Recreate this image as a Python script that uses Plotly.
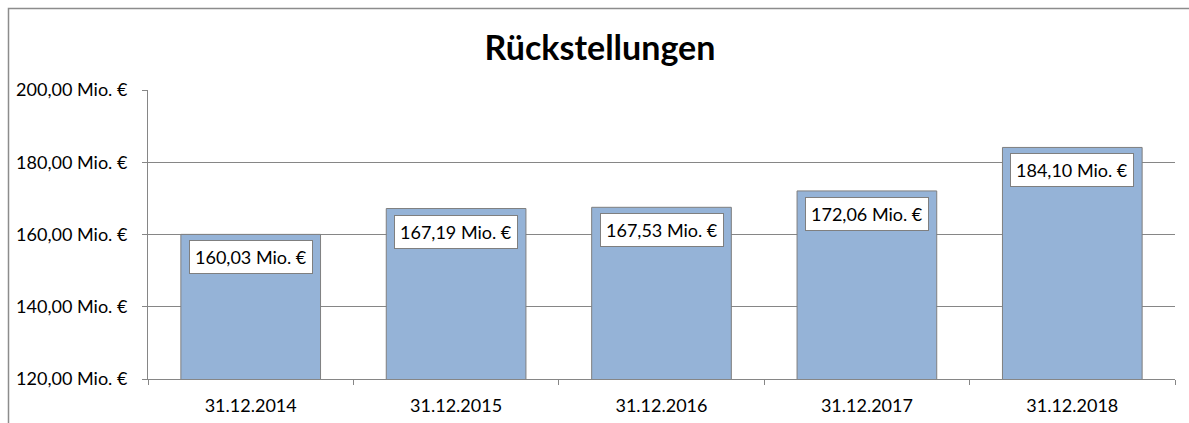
import plotly.graph_objects as go

categories = ["31.12.2014", "31.12.2015", "31.12.2016", "31.12.2017", "31.12.2018"]
values = [160.03, 167.19, 167.53, 172.06, 184.10]
label_texts = ["160,03 Mio. €", "167,19 Mio. €", "167,53 Mio. €", "172,06 Mio. €", "184,10 Mio. €"]

FONT = "Lato"
W, H = 1189, 423
L, R, T, B = 148, 14, 90, 44
pw, ph = W - L - R, H - T - B

fig = go.Figure()
fig.add_trace(go.Bar(
    x=categories, y=values,
    marker=dict(color="#95B3D7", line=dict(color="#7F7F7F", width=1)),
    hoverinfo="skip",
))

for c, v, t in zip(categories, values, label_texts):
    fig.add_annotation(
        x=c, y=v, xref="x", yref="y", text=t, showarrow=False,
        yanchor="top", yshift=-6,
        bgcolor="white", bordercolor="#7F7F7F", borderwidth=1, borderpad=5,
        font=dict(family=FONT, size=18, color="black"),
    )

# outer chart border (left and top edges visible), at (8, 8)
fig.add_shape(
    type="rect", xref="paper", yref="paper",
    x0=(8.5 - L) / pw, x1=(W + 20 - L) / pw,
    y0=(H - B - (H + 20)) / ph, y1=(H - B - 8.5) / ph,
    line=dict(color="#8C8C8C", width=1.5), fillcolor="rgba(0,0,0,0)", layer="below",
)

fig.update_layout(
    width=W, height=H,
    margin=dict(l=L, r=R, t=T, b=B, autoexpand=False),
    paper_bgcolor="white", plot_bgcolor="white",
    bargap=0.32,
    showlegend=False,
    separators=",.",
    font=dict(family=FONT, size=18, color="black"),
    title=dict(
        text="<b>Rückstellungen</b>", x=600 / W, xref="container", xanchor="center",
        y=1 - 48 / H, yref="container", yanchor="middle",
        font=dict(family=FONT, size=34, color="black"),
    ),
    xaxis=dict(
        type="category", showline=True, linecolor="#868686", linewidth=1,
        ticks="outside", ticklen=5, tickcolor="#868686", tickson="boundaries",
        showgrid=False, tickfont=dict(family=FONT, size=18, color="black"),
        ticklabelstandoff=10, automargin=False,
        fixedrange=True,
    ),
    yaxis=dict(
        range=[120, 200], dtick=20, tick0=120, tickformat=".2f", ticksuffix=" Mio. €",
        showline=True, linecolor="#868686", linewidth=1,
        ticks="outside", ticklen=5, tickcolor="#868686",
        showgrid=True, gridcolor="#868686", gridwidth=1, zeroline=False,
        tickfont=dict(family=FONT, size=18, color="black"),
        ticklabelstandoff=11, automargin=False,
        fixedrange=True,
    ),
)

fig.write_html(
    "out.html",
    config={"displayModeBar": False, "responsive": False},
    post_script="document.body.style.margin='0';document.body.style.overflow='hidden';",
)
